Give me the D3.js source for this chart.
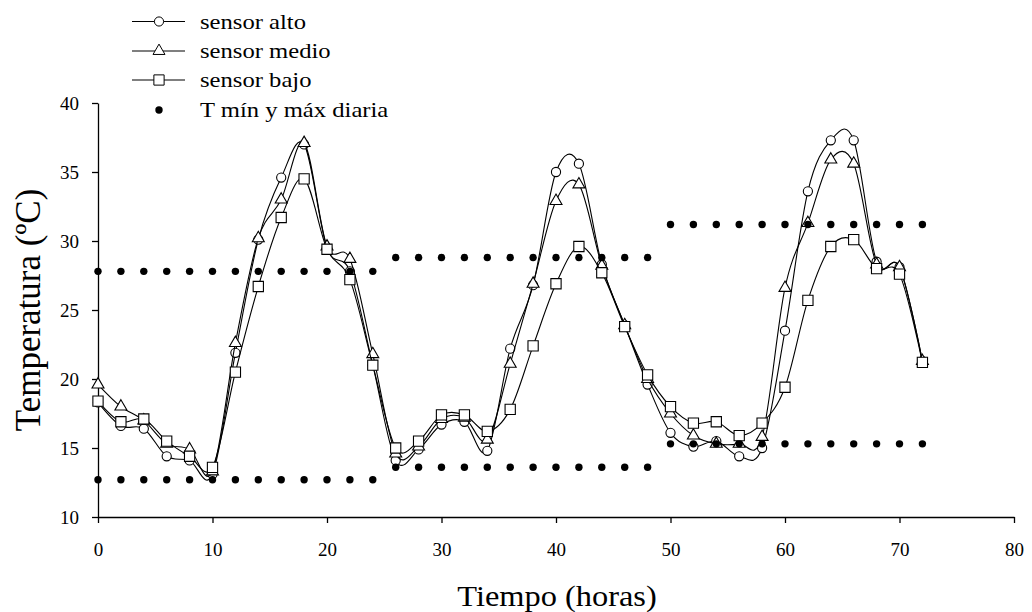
<html>
<head>
<meta charset="utf8">
<title>Temperatura sensores</title>
<style>
  body { margin: 0; background: #fff; }
  text { font-family: "Liberation Serif", "Times New Roman", serif; fill: #000; }
  .axis path, .axis line { stroke: #000; stroke-width: 1.3px; }
  .serie { fill: none; stroke: #000; stroke-width: 1.1px; }
</style>
</head>
<body>
<svg width="1032" height="612"></svg>
<script src="https://d3js.org/d3.v7.min.js"></script>
<script>
// horas de medicion (cada 2 h)
var horas = [0, 2, 4, 6, 8, 10, 12, 14, 16, 18, 20, 22, 24, 26, 28, 30, 32, 34, 36,
             38, 40, 42, 44, 46, 48, 50, 52, 54, 56, 58, 60, 62, 64, 66, 68, 70, 72];

var sensorAlto = [18.3, 16.6, 16.4, 14.4, 14.1, 13.1, 21.9, 30.1, 34.6, 37.0, 29.5, 27.8, 21.0,
                  14.1, 14.9, 16.7, 16.9, 14.8, 22.2, 26.8, 35.0, 35.6, 28.3, 23.9, 19.6,
                  16.1, 15.1, 15.5, 14.4, 15.0, 23.5, 33.6, 37.3, 37.3, 28.5, 28.1, 21.3];

var sensorMedio = [19.6, 18.0, 17.0, 15.3, 14.9, 13.3, 22.6, 30.2, 33.0, 37.1, 29.6, 28.7, 21.8,
                   14.6, 15.1, 17.1, 17.2, 15.6, 21.1, 26.9, 32.9, 34.1, 28.2, 23.9, 20.0,
                   17.5, 15.9, 15.3, 15.3, 15.8, 26.6, 31.3, 35.9, 35.6, 28.3, 28.1, 21.3];

var sensorBajo = [18.4, 16.9, 17.1, 15.5, 14.4, 13.6, 20.5, 26.7, 31.7, 34.5, 29.4, 27.2, 21.0,
                  15.0, 15.5, 17.4, 17.4, 16.2, 17.8, 22.4, 26.9, 29.6, 27.7, 23.8, 20.3,
                  18.0, 16.8, 16.9, 15.9, 16.8, 19.4, 25.7, 29.6, 30.1, 28.0, 27.6, 21.2];

// T max y min diaria (un valor por dia, repetido en cada hora)
var tMax = [27.8, 27.8, 27.8, 27.8, 27.8, 27.8, 27.8, 27.8, 27.8, 27.8, 27.8, 27.8, 27.8,
            28.8, 28.8, 28.8, 28.8, 28.8, 28.8, 28.8, 28.8, 28.8, 28.8, 28.8, 28.8,
            31.2, 31.2, 31.2, 31.2, 31.2, 31.2, 31.2, 31.2, 31.2, 31.2, 31.2, 31.2];
var tMin = [12.7, 12.7, 12.7, 12.7, 12.7, 12.7, 12.7, 12.7, 12.7, 12.7, 12.7, 12.7, 12.7,
            13.6, 13.6, 13.6, 13.6, 13.6, 13.6, 13.6, 13.6, 13.6, 13.6, 13.6, 13.6,
            15.3, 15.3, 15.3, 15.3, 15.3, 15.3, 15.3, 15.3, 15.3, 15.3, 15.3, 15.3];

var xTicks = [0, 10, 20, 30, 40, 50, 60, 70, 80];
var yTicks = [10, 15, 20, 25, 30, 35, 40];
</script>
<script>
var svg = d3.select("svg");

var x = d3.scaleLinear().domain([0, 80]).range([98, 1014]);
var y = d3.scaleLinear().domain([10, 40]).range([517, 103]);

// ejes
svg.append("g")
    .attr("class", "axis")
    .attr("transform", "translate(0,517)")
    .call(d3.axisBottom(x).tickValues(xTicks).tickSize(6).tickSizeOuter(0).tickPadding(20))
    .call(g => g.selectAll("text").attr("font-size", 19));

svg.append("g")
    .attr("class", "axis")
    .attr("transform", "translate(98,0)")
    .call(d3.axisLeft(y).tickValues(yTicks).tickSize(6).tickSizeOuter(0).tickPadding(13))
    .call(g => g.selectAll("text").attr("font-size", 19));

svg.selectAll(".axis text").style("font-family", "Liberation Serif");

// titulos (el original tiene el texto algo ensanchado)
svg.append("text")
    .attr("transform", "translate(557,606) scale(1.08,1)")
    .attr("text-anchor", "middle")
    .attr("font-size", 30)
    .text("Tiempo (horas)");

svg.append("text")
    .attr("transform", "translate(40,310) rotate(-90)")
    .attr("text-anchor", "middle")
    .attr("font-size", 35)
    .text("Temperatura (ºC)");

var line = d3.line()
    .x(d => x(d[0]))
    .y(d => y(d[1]))
    .curve(d3.curveCardinal);

var series = [
    {name: "sensor alto", values: sensorAlto, symbol: d3.symbolCircle, size: 66},
    {name: "sensor medio", values: sensorMedio, symbol: d3.symbolTriangle, size: 62},
    {name: "sensor bajo", values: sensorBajo, symbol: d3.symbolSquare, size: 105}
];

series.forEach(function(s) {
    var pts = horas.map((h, i) => [h, s.values[i]]);
    svg.append("path")
        .attr("class", "serie")
        .attr("d", line(pts));
    svg.append("g")
        .selectAll("path")
        .data(pts)
        .enter().append("path")
        .attr("transform", d => "translate(" + x(d[0]) + "," + y(d[1]) + ")")
        .attr("d", d3.symbol().type(s.symbol).size(s.size))
        .attr("fill", "#fff")
        .attr("stroke", "#000")
        .attr("stroke-width", 1.1);
});

// puntos de T min y max diaria
var dots = svg.append("g");
[tMax, tMin].forEach(function(vals) {
    dots.selectAll(null)
        .data(horas.map((h, i) => [h, vals[i]]))
        .enter().append("circle")
        .attr("cx", d => x(d[0]))
        .attr("cy", d => y(d[1]))
        .attr("r", 3.7)
        .attr("fill", "#000");
});

// leyenda
var legend = svg.append("g");
var rows = [21.5, 51, 80, 110];
series.forEach(function(s, i) {
    var g = legend.append("g").attr("transform", "translate(0," + rows[i] + ")");
    g.append("line").attr("x1", 132).attr("x2", 185).attr("stroke", "#000").attr("stroke-width", 1.1);
    g.append("path")
        .attr("transform", "translate(159,0)")
        .attr("d", d3.symbol().type(s.symbol).size(s.size))
        .attr("fill", "#fff").attr("stroke", "#000");
    g.append("text").attr("transform", "translate(200,7) scale(1.12,1)").attr("font-size", 22).text(s.name);
});
var g4 = legend.append("g").attr("transform", "translate(0," + rows[3] + ")");
g4.append("circle").attr("cx", 159).attr("r", 3.7).attr("fill", "#000");
g4.append("text").attr("transform", "translate(200,7) scale(1.12,1)").attr("font-size", 22).text("T mín y máx diaria");
</script>
</body>
</html>
